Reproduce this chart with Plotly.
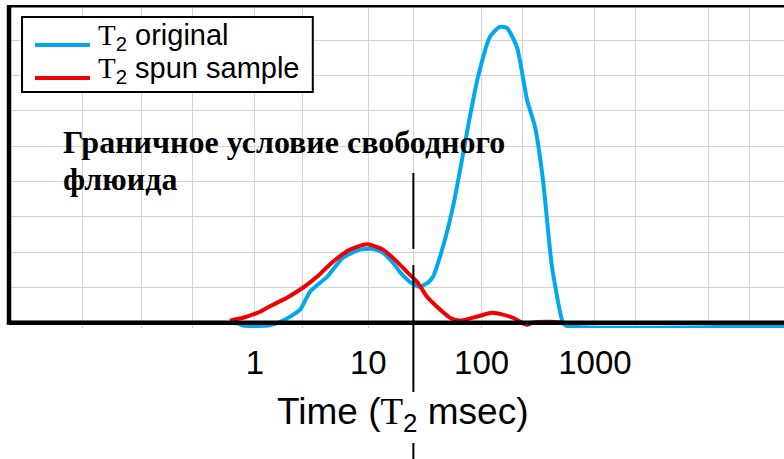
import numpy as np
import plotly.graph_objects as go

# ---------------- data ----------------
t2_original = [0.007, 0.5, 0.7, 0.78, 1.0, 1.36, 1.77, 2.5, 3.06, 4.32, 5.98, 8.45, 11.0,
               13.5, 16.5, 19.0, 23.3, 28.6, 34.0, 37.2, 45.6, 55.9, 67.1, 75.8, 92.9,
               118.6, 145.0, 167.0, 205.0, 252.0, 296.0, 348.0, 418.0, 522.0, 560.0, 46700.0]
amp_original = [0.0, 0.0, -0.02, -0.08, -0.09, -0.07, 0.06, 0.37, 0.88, 1.30, 1.84, 2.07, 2.09,
                1.98, 1.70, 1.44, 1.16, 1.02, 1.15, 1.30, 2.15, 3.28, 4.61, 5.55, 6.96,
                8.10, 8.38, 8.35, 7.81, 6.31, 5.55, 4.05, 1.59, 0.0, -0.09, -0.09]

t2_spun = [0.601, 0.784, 1.107, 1.442, 1.915, 2.649, 3.52, 4.89, 6.89, 9.73, 13.5, 17.9,
           21.9, 26.9, 32.9, 40.4, 52.7, 64.5, 90.6, 123.0, 154.0, 189.0, 251.0, 282.0,
           401.0, 522.0]
amp_spun = [0.06, 0.14, 0.31, 0.51, 0.71, 0.99, 1.30, 1.73, 2.07, 2.22, 2.07, 1.73,
            1.44, 1.16, 0.74, 0.45, 0.14, 0.06, 0.17, 0.28, 0.23, 0.14, -0.06, 0.0,
            0.03, 0.0]

tick_vals = [1, 10, 100, 1000]
tick_text = ["1", "10", "100", "1000"]
minor_grid_vals = [0.03, 0.1, 0.28, 2.6, 25, 230, 2300, 10000, 23000]

boundary_t2 = 25  # free-fluid cutoff marker

T2 = "<span style='font-family:\"Liberation Serif\"'>T</span><sub>2</sub>"
series_names = [T2 + " original", T2 + " spun sample"]
series_colors = ["#00a8f0", "#f00000"]
annot_lines = ["<b>Граничное условие свободного</b>", "<b>флюида</b>"]
xtitle_text = "Time (" + T2 + " msec)"

# ---------------- figure ----------------
XMIN, XMAX = -2.171, 4.669
YMIN, YMAX = -0.15, 9

fig = go.Figure()
fig.add_trace(go.Scatter(x=t2_original, y=amp_original, mode="lines", name=series_names[0],
                         showlegend=False,
                         line=dict(color=series_colors[0], width=4, shape="spline", smoothing=0.6)))
fig.add_trace(go.Scatter(x=t2_spun, y=amp_spun, mode="lines", name=series_names[1],
                         showlegend=False,
                         line=dict(color=series_colors[1], width=4, shape="spline", smoothing=0.6)))

font_sans = "Arial, 'Liberation Sans', sans-serif"
font_serif = "'Times New Roman', 'Liberation Serif', serif"
grid_col = "#d4d4d4"

fig.update_layout(
    width=784, height=459,
    margin=dict(l=9, r=0, t=5, b=131),
    paper_bgcolor="white", plot_bgcolor="white",
    font=dict(family=font_sans, color="black"),
    xaxis=dict(type="log", range=[XMIN, XMAX], tickmode="array", tickvals=tick_vals,
               ticktext=tick_text,
               showgrid=True, gridcolor=grid_col, gridwidth=1, ticks="",
               minor=dict(tickmode="array", tickvals=minor_grid_vals, showgrid=True,
                          gridcolor=grid_col, gridwidth=1, ticks=""),
               showline=False, zeroline=False, tickfont=dict(size=33, family=font_sans),
               ticklabelstandoff=12),
    yaxis=dict(range=[YMIN, YMAX], dtick=1, showticklabels=False, showgrid=True,
               gridcolor=grid_col, gridwidth=1, zeroline=False, showline=False, ticks=""),
    showlegend=False,
)

# borders and axis line
fig.add_shape(type="line", xref="paper", yref="y", x0=0, x1=1, y0=0, y1=0,
              line=dict(color="black", width=4.5), layer="above")
fig.add_shape(type="line", xref="paper", yref="y", x0=0, x1=1, y0=YMAX, y1=YMAX,
              line=dict(color="black", width=5), layer="above")
fig.add_shape(type="line", xref="paper", yref="y", x0=0, x1=0, y0=-0.06, y1=YMAX,
              line=dict(color="black", width=4.5), layer="above")

# boundary marker (free fluid cutoff)
bx = (np.log10(boundary_t2) - XMIN) / (XMAX - XMIN)
for y0, y1 in [(0.480, 0.245), (0.195, -0.198), (-0.356, -0.42)]:
    fig.add_shape(type="line", xref="paper", yref="paper", x0=bx, x1=bx, y0=y0, y1=y1,
                  line=dict(color="black", width=2), layer="above")

# legend (box, sample lines, labels)
fig.add_shape(type="rect", xref="paper", yref="paper", x0=0.0168, x1=0.392, y0=0.731, y1=0.963,
              line=dict(color="black", width=2), fillcolor="white", layer="above")
for i, (name, col) in enumerate(zip(series_names, series_colors)):
    ly = [0.876, 0.774][i]
    ty = [0.901, 0.799][i]
    fig.add_shape(type="line", xref="paper", yref="paper", x0=0.0335, x1=0.1045, y0=ly, y1=ly,
                  line=dict(color=col, width=4), layer="above")
    fig.add_annotation(text=name, xref="paper", yref="paper", x=0.112, y=ty,
                       xanchor="left", yanchor="middle", showarrow=False,
                       font=dict(family=font_sans, size=29, color="black"))

# boundary annotation
for txt, yv in zip(annot_lines, [5.13, 4.08]):
    fig.add_annotation(text=txt, xref="paper", yref="y", x=0.067, y=yv,
                       xanchor="left", yanchor="middle", align="left", showarrow=False,
                       font=dict(family=font_serif, size=32, color="black"))

fig.add_annotation(text=xtitle_text, xref="paper", yref="paper", x=0.508, y=-0.266,
                   xanchor="center", yanchor="middle", showarrow=False,
                   font=dict(family=font_sans, size=37, color="black"))

fig.write_html("out.html")
